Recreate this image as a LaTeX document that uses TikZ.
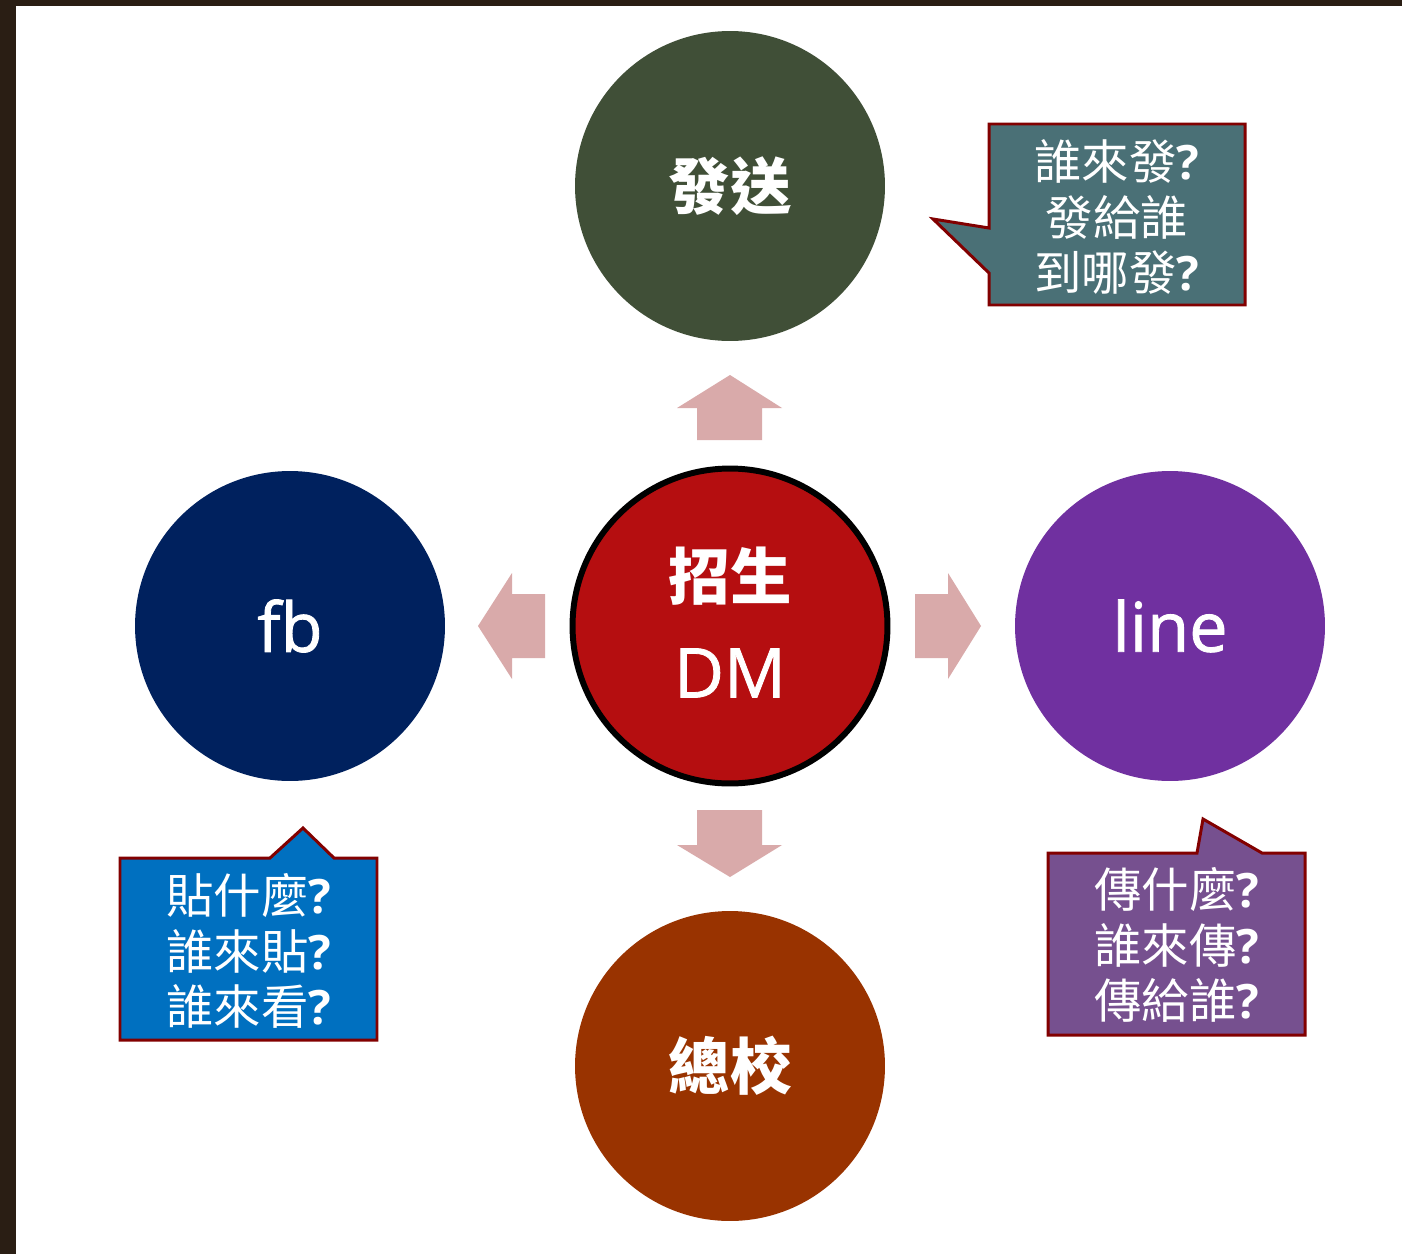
\documentclass[tikz,border=0pt]{standalone}
\usepackage{fontspec}
\setmainfont{Open Sans}
\newfontfamily\cjk{Noto Sans CJK TC}
\newfontfamily\latinsemi[FakeBold=1.2]{Open Sans}
\definecolor{frame}{RGB}{42,30,20}
\definecolor{sendgreen}{RGB}{64,79,55}
\definecolor{dmred}{RGB}{181,14,16}
\definecolor{fbblue}{RGB}{0,33,94}
\definecolor{linepurple}{RGB}{112,48,160}
\definecolor{schoolbrown}{RGB}{153,51,0}
\definecolor{arrowpink}{RGB}{217,170,170}
\definecolor{edgered}{RGB}{130,0,0}
\definecolor{tealbox}{RGB}{74,112,118}
\definecolor{bluebox}{RGB}{0,112,192}
\definecolor{purplebox}{RGB}{118,80,143}
\newcommand{\qm}{{\fontspec{Open Sans}\bfseries ?}}
\tikzset{
  topic/.style={circle, inner sep=0pt, minimum size=6.2cm, text=white, align=center},
  cjktitle/.style={font=\cjk\bfseries\fontsize{35pt}{40pt}\selectfont},
  latintitle/.style={font=\latinsemi\fontsize{39pt}{46pt}\selectfont},
  callout/.style={draw=edgered, line width=1.7pt, line join=miter},
  calltext/.style={text=white, align=center, inner sep=0pt, font=\cjk\fontsize{27pt}{31.8pt}\selectfont},
  bigarrow/.style={fill=arrowpink}
}
\begin{document}
\begin{tikzpicture}[x=0.02cm, y=-0.02cm]
% background with frame edge
\fill[frame] (0,0) rectangle (1402,1254);
\fill[white] (16,6) rectangle (1402,1254);
\useasboundingbox (0,0) rectangle (1402,1254);
% circles
\node[topic, fill=sendgreen, cjktitle] (send) at (730,186) {發送};
\node[topic, fill=dmred, draw=black, line width=3.4pt, minimum size=6.3cm] (dm) at (730,626) {};
\node[text=white, cjktitle] (dmtop) at (730,576) {招生};
\node[text=white, latintitle] (dmbot) at (730,673) {DM};
\node[topic, fill=fbblue, latintitle] (fb) at (290,626) {fb};
\node[topic, fill=linepurple, latintitle] (line) at (1170,626) {line};
\node[topic, fill=schoolbrown, cjktitle] (school) at (730,1066) {總校};
% arrows
\fill[bigarrow] (697,440) -- (697,408) -- (677,408) -- (730,375) -- (782,408) -- (762,408) -- (762,440) -- cycle;
\fill[bigarrow] (697,810) -- (697,845) -- (677,845) -- (730,877) -- (782,845) -- (762,845) -- (762,810) -- cycle;
\fill[bigarrow] (545,594) -- (512,594) -- (512,573) -- (478,626) -- (512,679) -- (512,658) -- (545,658) -- cycle;
\fill[bigarrow] (915,594) -- (948,594) -- (948,573) -- (981,626) -- (948,679) -- (948,658) -- (915,658) -- cycle;
% callouts
\draw[callout, fill=tealbox] (989,124) -- (1245,124) -- (1245,305) -- (989,305) -- (989,273) -- (933,219) -- (989,228) -- cycle;
\node[calltext] (sendq) at (1117,217) {誰來發\qm\\發給誰\\到哪發\qm};
\draw[callout, fill=bluebox] (120,858) -- (270,858) -- (303,828) -- (334,858) -- (377,858) -- (377,1040) -- (120,1040) -- cycle;
\node[calltext] (fbq) at (249,951) {貼什麼\qm\\誰來貼\qm\\誰來看\qm};
\draw[callout, fill=purplebox] (1048,853) -- (1197,853) -- (1203,819) -- (1262,853) -- (1305,853) -- (1305,1035) -- (1048,1035) -- cycle;
\node[calltext] (lineq) at (1177,945) {傳什麼\qm\\誰來傳\qm\\傳給誰\qm};
\end{tikzpicture}
\end{document}
